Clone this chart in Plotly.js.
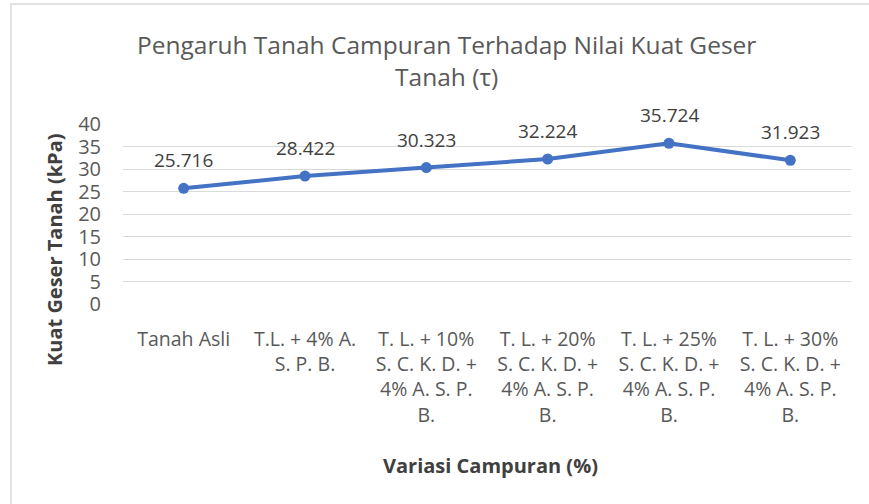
<!DOCTYPE html>
<html>
<head>
<meta charset="utf-8">
<script src="https://cdn.plot.ly/plotly-3.0.1.min.js"></script>
<style>html,body{margin:0;padding:0;background:#fff;}#chart{width:869px;height:504px;}</style>
</head>
<body>
<div id="chart"></div>
<script>
var categories = [
  "Tanah Asli",
  "T.L. + 4% A.<br>S. P. B.",
  "T. L. + 10%<br>S. C. K. D. +<br>4% A. S. P.<br>B.",
  "T. L. + 20%<br>S. C. K. D. +<br>4% A. S. P.<br>B.",
  "T. L. + 25%<br>S. C. K. D. +<br>4% A. S. P.<br>B.",
  "T. L. + 30%<br>S. C. K. D. +<br>4% A. S. P.<br>B."
];
var values = [25.716, 28.422, 30.323, 32.224, 35.724, 31.923];
var labels = ["25.716", "28.422", "30.323", "32.224", "35.724", "31.923"];
var yTicks = [0, 5, 10, 15, 20, 25, 30, 35, 40];

var FONT = "'Open Sans', sans-serif";
var L = 123, R = 18, T = 124, B = 200;
var W = 869 - L - R, H = 504 - T - B;
function px2x(p){ return (p - L) / W; }
function px2y(p){ return (504 - B - p) / H; }

var trace = {
  x: categories,
  y: values,
  type: "scatter",
  mode: "lines+markers",
  line: {color: "#4472C4", width: 4},
  marker: {color: "#4472C4", size: 11},
  hoverinfo: "skip"
};

var annotations = values.map(function(v, i){
  return {x: categories[i], y: v, xref: "x", yref: "y", text: labels[i],
    xanchor: "center", yanchor: "middle",
    showarrow: false, yshift: 28, font: {family: FONT, size: 19, color: "#404040"}};
});
annotations.push({xref: "paper", yref: "paper", x: px2x(446), y: px2y(61),
  xanchor: "center", yanchor: "middle",
  text: "Pengaruh Tanah Campuran Terhadap Nilai Kuat Geser<br>Tanah (τ)", showarrow: false,
  font: {family: FONT, size: 24.5, color: "#595959"}});
annotations.push({xref: "paper", yref: "paper", x: px2x(490), y: px2y(465),
  xanchor: "center", yanchor: "middle",
  text: "<b>Variasi Campuran (%)</b>", showarrow: false,
  font: {family: FONT, size: 20, color: "#404040"}});
annotations.push({xref: "paper", yref: "paper", x: px2x(54), y: px2y(250),
  xanchor: "center", yanchor: "middle",
  text: "<b>Kuat Geser Tanah (kPa)</b>", showarrow: false, textangle: -90,
  font: {family: FONT, size: 20, color: "#404040"}});

var layout = {
  width: 869, height: 504,
  margin: {l: L, r: R, t: T, b: B, pad: 0},
  paper_bgcolor: "#fff", plot_bgcolor: "#fff",
  showlegend: false,
  xaxis: {
    type: "category", range: [-0.5, 5.5],
    showgrid: false, zeroline: false, showline: false,
    ticks: "", tickfont: {family: FONT, size: 19.5, color: "#595959"},
    ticklabelstandoff: 21, fixedrange: true
  },
  yaxis: {
    range: [0, 40], tickvals: yTicks, ticktext: yTicks.map(String),
    showgrid: true, gridcolor: "#d9d9d9", gridwidth: 1,
    zeroline: false, showline: false, ticks: "",
    tickfont: {family: FONT, size: 20, color: "#595959"},
    ticklabelstandoff: 21, fixedrange: true
  },
  shapes: [{
    type: "rect", xref: "paper", yref: "paper",
    x0: px2x(11), x1: px2x(900), y0: px2y(520), y1: px2y(4),
    line: {color: "#d9d9d9", width: 1.5}, layer: "below"
  }],
  annotations: annotations
};

Plotly.newPlot("chart", [trace], layout, {displayModeBar: false, staticPlot: true});
</script>
</body>
</html>
